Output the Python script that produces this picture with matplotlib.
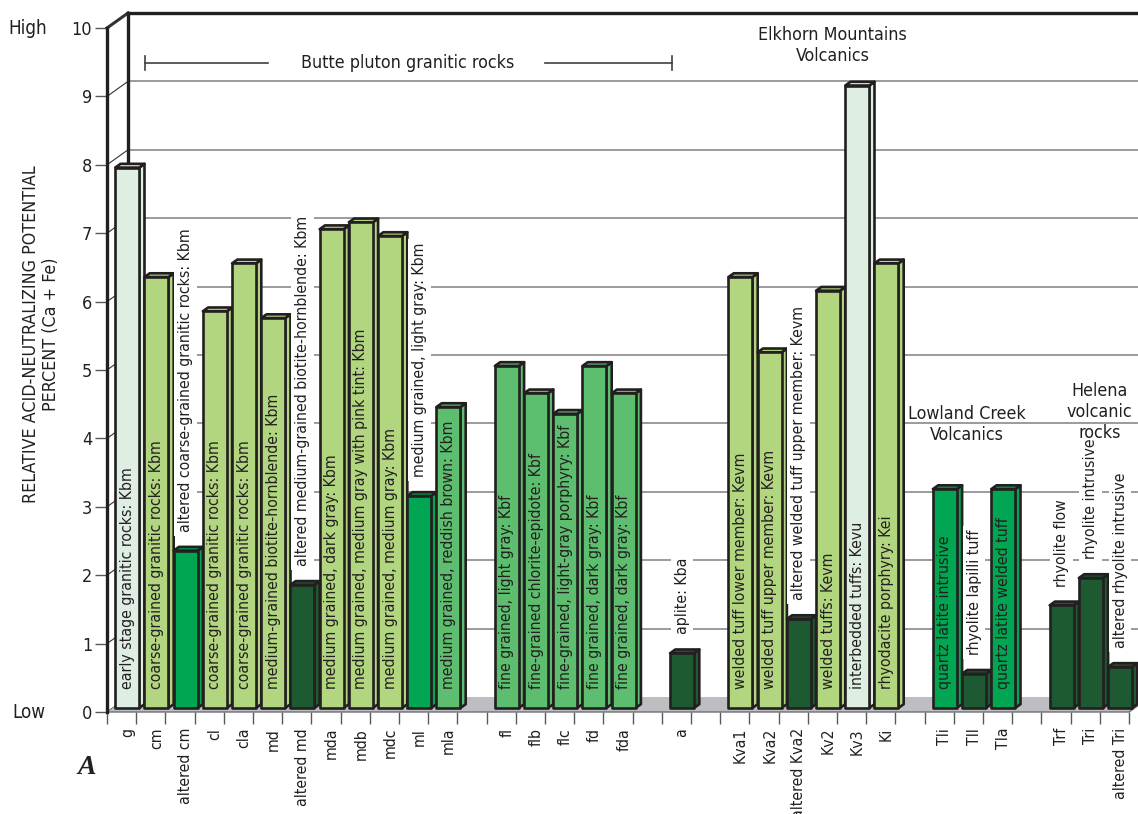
import matplotlib
matplotlib.use("Agg")
import matplotlib.pyplot as plt
from matplotlib.patches import Rectangle, Polygon

plt.rcParams['font.family'] = ['DejaVu Sans']
plt.rcParams['font.stretch'] = 'condensed'

# sample codes along the x axis ('' = empty slot between rock groups)
codes = ['g', 'cm', 'altered cm', 'cl', 'cla', 'md', 'altered md', 'mda', 'mdb',
         'mdc', 'ml', 'mla', '',
         'fl', 'flb', 'flc', 'fd', 'fda', '',
         'a', '',
         'Kva1', 'Kva2', 'altered Kva2', 'Kv2', 'Kv3', 'Ki', '',
         'Tli', 'Tll', 'Tla', '',
         'Trf', 'Tri', 'altered Tri']

# relative acid-neutralizing potential, percent (Ca + Fe)
anp = [7.9, 6.3, 2.3, 5.8, 6.5, 5.7, 1.8, 7.0, 7.1, 6.9, 3.1, 4.4, None,
       5.0, 4.6, 4.3, 5.0, 4.6, None,
       0.8, None,
       6.3, 5.2, 1.3, 6.1, 9.1, 6.5, None,
       3.2, 0.5, 3.2, None,
       1.5, 1.9, 0.6]

descr = ['early stage granitic rocks: Kbm',
         'coarse-grained granitic rocks: Kbm',
         'altered coarse-grained granitic rocks: Kbm',
         'coarse-grained granitic rocks: Kbm',
         'coarse-grained granitic rocks: Kbm',
         'medium-grained biotite-hornblende: Kbm',
         'altered medium-grained biotite-hornblende: Kbm',
         'medium grained, dark gray: Kbm',
         'medium grained, medium gray with pink tint: Kbm',
         'medium grained, medium gray: Kbm',
         'medium grained, light gray: Kbm',
         'medium grained, reddish brown: Kbm', '',
         'fine grained, light gray: Kbf',
         'fine-grained chlorite-epidote: Kbf',
         'fine-grained, light-gray porphyry: Kbf',
         'fine grained, dark gray: Kbf',
         'fine grained, dark gray: Kbf', '',
         'aplite: Kba', '',
         'welded tuff lower member: Kevm',
         'welded tuff upper member: Kevm',
         'altered welded tuff upper member: Kevm',
         'welded tuffs: Kevm',
         'interbedded tuffs: Kevu',
         'rhyodacite porphyry: Kei', '',
         'quartz latite intrusive',
         'rhyolite lapilli tuff',
         'quartz latite welded tuff', '',
         'rhyolite flow',
         'rhyolite intrusive',
         'altered rhyolite intrusive']

kind = ['pale', 'light', 'mid', 'light', 'light', 'light', 'dark', 'light', 'light',
        'light', 'mid', 'fine', '',
        'fine', 'fine', 'fine', 'fine', 'fine', '',
        'dark', '',
        'light', 'light', 'dark', 'light', 'pale', 'light', '',
        'mid', 'dark', 'mid', '',
        'dark', 'dark', 'dark']

palette = {'pale': '#deeee3', 'light': '#b1d67f', 'mid': '#00a651',
           'fine': '#5ebe6f', 'dark': '#1e5a31'}

groups = [('Butte pluton granitic rocks', 10.3, 9.49),
          ('Elkhorn Mountains\nVolcanics', 24.85, 9.74),
          ('Lowland Creek\nVolcanics', 29.45, 4.2),
          ('Helena\nvolcanic\nrocks', 34.0, 4.39)]

TXT = '#231f20'
n = len(codes)
DX, DY = 21 / 29.2, 15 / 68.4     # depth of the box, in data units
FRONT = 0.27                       # bar front face position within depth
BD = 0.25                          # bar depth (fraction of box depth)
W = 0.82                           # bar width

fig = plt.figure(figsize=(11.38, 8.14), dpi=100)
ax = fig.add_axes([107 / 1138, 102 / 814, 1022 / 1138, 684 / 814])
ax.set_xlim(0, n)
ax.set_ylim(0, 10)
for s in ax.spines.values():
    s.set_visible(False)

xr = 35.5
# back wall gridlines and side wall diagonals
for k in range(11):
    if k > 0:
        ax.plot([DX, xr], [k + DY, k + DY], color='#808080', lw=1.1, zorder=1,
                clip_on=False)
    ax.plot([0, DX], [k, k + DY], color='#333333', lw=0.8 if k < 10 else 2.2,
            zorder=2, clip_on=False)
ax.plot([DX, xr], [10 + DY, 10 + DY], color='#231f20', lw=2.4, zorder=3, clip_on=False)
ax.plot([DX, DX], [DY, 10 + DY], color='#231f20', lw=2.4, zorder=3, clip_on=False)
ax.plot([0, 0], [0, 10], color='#231f20', lw=2.4, zorder=6, clip_on=False)

# floor
ax.add_patch(Polygon([(0, 0), (n, 0), (n + DX, DY), (DX, DY)], closed=True,
                     fc='#bdbec1', ec='none', zorder=2, clip_on=False))
ax.plot([0, n, n + DX], [0, 0, DY], color='#6d6e71', lw=1.0, zorder=2.5, clip_on=False)

# 3-D bars
fig.canvas.draw()
inv = ax.transData.inverted()
for i, v in enumerate(anp):
    if v is None:
        continue
    c = palette[kind[i]]
    x0 = i + 0.5 - W / 2 + FRONT * DX
    y0 = FRONT * DY
    ddx, ddy = BD * DX, BD * DY
    top = y0 + v
    z = 4 + i * 0.01
    kw = dict(fc=c, ec='#231f20', lw=1.9, joinstyle='round', zorder=z, clip_on=False)
    ax.add_patch(Polygon([(x0 + W, y0), (x0 + W + ddx, y0 + ddy),
                          (x0 + W + ddx, top + ddy), (x0 + W, top)], **kw))
    ax.add_patch(Polygon([(x0, top), (x0 + W, top), (x0 + W + ddx, top + ddy),
                          (x0 + ddx, top + ddy)], **kw))
    ax.add_patch(Rectangle((x0, y0), W, v, **kw))

    # description inside the bar, or above it on white when it is too long
    cx = x0 + W / 2
    t = ax.text(cx, 0.33, descr[i], rotation=90, ha='center', va='bottom',
                fontsize=11.3, color=TXT, zorder=8)
    bb = t.get_window_extent(renderer=fig.canvas.get_renderer())
    ytop = inv.transform((0, bb.y1))[1]
    if ytop > top + 0.02:
        t.set_position((cx, top + ddy + 0.22))
        t.set_bbox(dict(boxstyle='square,pad=0.25', fc='white', ec='none'))

# axis ticks and labels
ax.set_yticks(range(11))
ax.tick_params(axis='y', length=8.6, width=1.0, color='#58595b', pad=2,
               labelsize=13, labelcolor=TXT)
ax.set_xticks(range(n + 1))
ax.set_xticks([i + 0.5 + FRONT * DX for i in range(n)], minor=True)
ax.set_xticklabels([])
ax.set_xticklabels(codes, minor=True, rotation=90, va='top', ha='center')
ax.tick_params(axis='x', which='major', length=8.6, width=1.0, color='#58595b')
ax.tick_params(axis='x', which='minor', length=0, pad=11.5, labelsize=11.3,
               labelcolor=TXT)

ax.text(-3.39, 10, 'High', fontsize=13.5, color=TXT, ha='left', va='center',
        clip_on=False)
ax.text(-3.25, 0, 'Low', fontsize=13.5, color=TXT, ha='left', va='center',
        clip_on=False)
ax.text(-2.26, 5.52, 'RELATIVE ACID-NEUTRALIZING POTENTIAL\nPERCENT (Ca + Fe)',
        rotation=90, ha='center', va='center', fontsize=12.8, color=TXT,
        linespacing=1.15, multialignment='center')

for label, gx, gy in groups:
    ax.text(gx, gy, label, ha='center', va='center', fontsize=12.8, color=TXT,
            linespacing=1.2, zorder=9)

# extent bar for the Butte pluton group
lc = '#414042'
ax.plot([1.3, 5.52], [9.49, 9.49], color=lc, lw=1.2, zorder=7)
ax.plot([15.0, 19.35], [9.49, 9.49], color=lc, lw=1.2, zorder=7)
ax.plot([1.3, 1.3], [9.39, 9.59], color=lc, lw=1.2, zorder=7)
ax.plot([19.35, 19.35], [9.39, 9.59], color=lc, lw=1.2, zorder=7)

fig.text(87 / 1138, 1 - 768 / 814, 'A', family='Liberation Serif', style='italic',
         weight='bold', fontsize=20, color=TXT, ha='center', va='center')

fig.savefig('out.png', dpi=100)
